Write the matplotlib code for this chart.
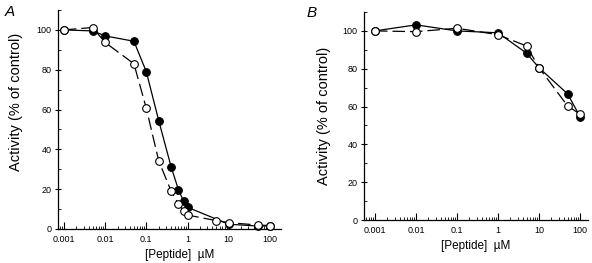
import numpy as np
import matplotlib
matplotlib.use('Agg')
import matplotlib.pyplot as plt
from matplotlib.ticker import LogLocator, FixedLocator, FixedFormatter, NullFormatter

plt.rcParams['font.family'] = ['Liberation Sans', 'DejaVu Sans']

# panel A
a_filled_x = [0.001, 0.005, 0.01, 0.05, 0.1, 0.2, 0.4, 0.6, 0.8, 1, 10, 50, 100]
a_filled_y = [100, 99.5, 97, 94.3, 79, 54.4, 31.2, 19.8, 14, 10.9, 2.4, 1.5, 1.5]
a_open_x = [0.001, 0.005, 0.01, 0.05, 0.1, 0.2, 0.4, 0.6, 0.8, 1, 5, 10, 50, 100]
a_open_y = [100, 101.2, 93.7, 83, 60.6, 34.2, 19, 12.6, 9.2, 7, 4.2, 3.2, 2, 1.7]

# panel B
b_filled_x = [0.001, 0.01, 0.1, 1, 5, 10, 50, 100]
b_filled_y = [100, 103.2, 100, 99, 88.2, 80.5, 66.7, 54.7]
b_open_x = [0.001, 0.01, 0.1, 1, 5, 10, 50, 100]
b_open_y = [100, 99.6, 101.4, 98, 92, 80.6, 60.3, 56]

xticks = [0.001, 0.01, 0.1, 1, 10, 100]
xticklabels = ['0.001', '0.01', '0.1', '1', '10', '100']
yticks = [0, 20, 40, 60, 80, 100]


def style_axis(ax, xlim):
    ax.set_xscale('log')
    ax.set_xlim(*xlim)
    ax.set_ylim(0, 110)
    for s in ['top', 'right']:
        ax.spines[s].set_visible(False)
    ax.spines['left'].set_linewidth(0.9)
    ax.spines['bottom'].set_linewidth(0.9)
    ax.xaxis.set_major_locator(FixedLocator(xticks))
    ax.xaxis.set_major_formatter(FixedFormatter(xticklabels))
    ax.xaxis.set_minor_locator(LogLocator(base=10, subs=np.arange(2, 10), numticks=20))
    ax.xaxis.set_minor_formatter(NullFormatter())
    ax.set_yticks(yticks)
    ax.set_yticks(np.arange(10, 111, 20), minor=True)
    ax.tick_params(axis='x', which='major', direction='in', length=5, width=0.8, labelsize=6.5, pad=4)
    ax.tick_params(axis='x', which='minor', direction='in', length=2.5, width=0.6)
    ax.tick_params(axis='y', which='major', direction='inout', length=5, width=0.8, labelsize=6.5, pad=2)
    ax.tick_params(axis='y', which='minor', direction='in', length=2.5, width=0.6)
    ax.set_xlabel('[Peptide]  \u00b5M', fontsize=8.5)
    ax.set_ylabel('Activity (% of control)', fontsize=10.5)


def draw(ax, fx, fy, ox, oy):
    ax.plot(fx, fy, '-', color='black', lw=0.9, marker='o', ms=5.5,
            mfc='black', mec='black', mew=0.8, clip_on=False, zorder=3)
    ax.plot(ox, oy, color='black', lw=0.9, dashes=(10, 4), marker='o', ms=5.5,
            mfc='white', mec='black', mew=0.8, clip_on=False, zorder=4)


fig = plt.figure(figsize=(5.92, 2.63), dpi=100)
axA = fig.add_axes([58 / 592, 34 / 263, 223 / 592, 219 / 263])
axB = fig.add_axes([364 / 592, 43 / 263, 224 / 592, 208 / 263])

draw(axA, a_filled_x, a_filled_y, a_open_x, a_open_y)
style_axis(axA, (7.2e-4, 185))
axA.yaxis.set_label_coords(-0.155, 0.58)
axA.xaxis.set_label_coords(0.547, -0.09)

draw(axB, b_filled_x, b_filled_y, b_open_x, b_open_y)
style_axis(axB, (5.4e-4, 157))
axB.yaxis.set_label_coords(-0.147, 0.5)
axB.xaxis.set_label_coords(0.5, -0.096)

fig.text(10 / 592, 1 - 12 / 263, 'A', fontsize=11, style='italic', ha='center', va='center')
fig.text(312 / 592, 1 - 13 / 263, 'B', fontsize=11, style='italic', ha='center', va='center')

fig.savefig('out.png', dpi=100)
